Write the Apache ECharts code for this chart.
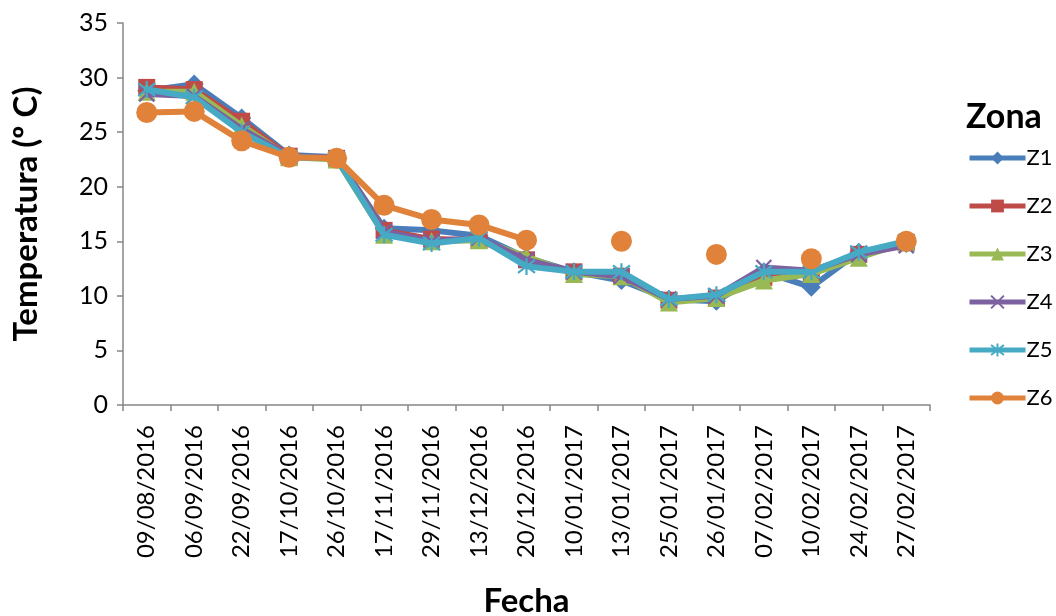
<!DOCTYPE html>
<html><head><meta charset="utf-8">
<script src="https://cdn.jsdelivr.net/npm/echarts@6/dist/echarts.min.js"></script>
<style>html,body{margin:0;padding:0;background:#fff}#c{width:1056px;height:616px}</style>
</head><body><div id="c"></div>
<script>
const categories = ['09/08/2016','06/09/2016','22/09/2016','17/10/2016','26/10/2016','17/11/2016','29/11/2016','13/12/2016','20/12/2016','10/01/2017','13/01/2017','25/01/2017','26/01/2017','07/02/2017','10/02/2017','24/02/2017','27/02/2017'];
const Z1 = [28.8, 29.4, 26.3, 22.9, 22.7, 16.2, 16.0, 15.5, 13.5, 12.2, 11.4, 9.7, 9.5, 12.2, 10.8, 14.0, 14.8];
const Z2 = [29.1, 28.9, 26.0, 22.8, 22.6, 16.0, 15.2, 15.1, 13.3, 12.2, 11.8, 9.6, 9.8, 11.7, 12.0, 13.8, 14.9];
const Z3 = [28.7, 28.7, 25.6, 22.7, 22.5, 15.6, 15.0, 15.1, 13.6, 12.0, 11.8, 9.4, 9.8, 11.4, 12.0, 13.5, 14.9];
const Z4 = [28.5, 28.3, 25.3, 22.8, 22.6, 15.9, 15.0, 15.3, 13.3, 12.2, 11.8, 9.7, 10.0, 12.6, 12.3, 13.8, 14.6];
const Z5 = [28.9, 28.2, 25.0, 22.7, 22.6, 15.6, 14.8, 15.3, 12.7, 12.2, 12.2, 9.7, 10.1, 12.2, 12.2, 14.0, 15.0];
const Z6 = [26.8, 26.9, 24.2, 22.7, 22.6, 18.3, 17.0, 16.5, 15.1, null, 15.0, null, 13.8, null, 13.4, null, 15.0];
const seriesNames = ['Z1','Z2','Z3','Z4','Z5','Z6'];
const seriesData = [Z1, Z2, Z3, Z4, Z5, Z6];
const yTicks = {min: 0, max: 35, interval: 5};

const colors = ['#4A7EBB','#BE4B48','#98B954','#7D60A0','#46AAC5','#E0823A'];
const symbols = ['diamond','rect','triangle','path://M0,0L10,10M10,0L0,10','path://M0,0L10,10M10,0L0,10M5,-1.5L5,11.5','circle'];
const sizes = [19,17,18,15,17,21];
const font = 'Lato, "Open Sans", sans-serif';

const chart = echarts.init(document.getElementById('c'), null, {renderer:'canvas'});
chart.setOption({
  animation: false,
  color: colors,
  title: {text: 'Zona', left: 961, top: 95, textStyle: {fontFamily: font, fontSize: 34, fontWeight: 'bold', color: '#000'}},
  legend: {
    orient: 'vertical', left: 962, top: 142, itemWidth: 56, itemHeight: 16, itemGap: 26,
    lineStyle: {width: 5},
    textStyle: {fontFamily: font, fontSize: 22, color: '#000', padding: [0,0,0,-4]},
    data: seriesNames
  },
  grid: {left: 123, right: 126, top: 23, bottom: 211, containLabel: false, outerBoundsMode: 'none'},
  xAxis: {
    type: 'category', data: categories, boundaryGap: true,
    name: 'Fecha', nameLocation: 'middle', nameGap: 180,
    nameTextStyle: {fontFamily: font, fontSize: 33, fontWeight: 'bold', color: '#000'},
    axisLine: {lineStyle: {color: '#868686', width: 1.5}},
    axisTick: {show: true, alignWithLabel: false, length: 6, lineStyle: {color: '#868686', width: 1.5}},
    axisLabel: {rotate: 90, interval: 0, fontFamily: font, fontSize: 24, color: '#000', margin: 20},
    splitLine: {show: false}
  },
  yAxis: {
    type: 'value', min: yTicks.min, max: yTicks.max, interval: yTicks.interval,
    name: 'Temperatura (º C)', nameLocation: 'middle', nameGap: 80,
    nameTextStyle: {fontFamily: font, fontSize: 33, fontWeight: 'bold', color: '#000'},
    axisLine: {show: true, lineStyle: {color: '#868686', width: 1.5}},
    axisTick: {show: true, length: 6, lineStyle: {color: '#868686', width: 1.5}},
    axisLabel: {fontFamily: font, fontSize: 25, color: '#000', margin: 15},
    splitLine: {show: false}
  },
  series: seriesNames.map((n, i) => ({
    name: n, type: 'line', data: seriesData[i], connectNulls: false,
    symbol: symbols[i], symbolSize: sizes[i], showAllSymbol: true,
    lineStyle: {width: 6, color: colors[i]},
    itemStyle: {color: colors[i], borderColor: colors[i], borderWidth: (i === 3 || i === 4) ? 2.2 : 0, opacity: 1},
    z: 2 + i
  }))
});
</script></body></html>
